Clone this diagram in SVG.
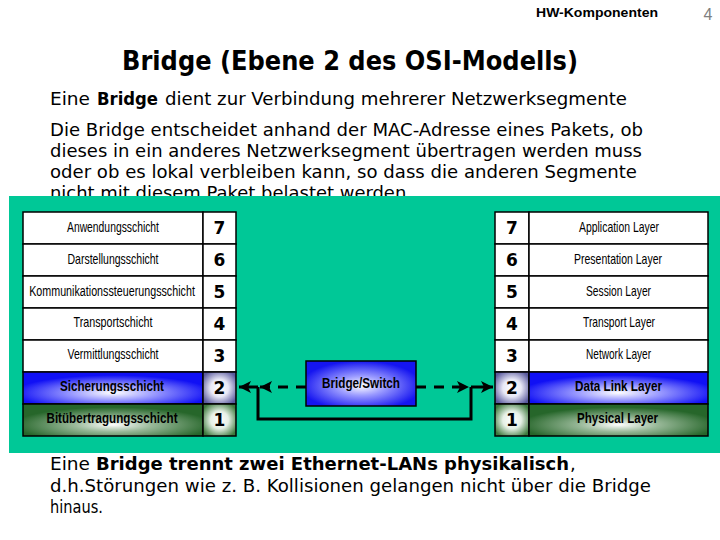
<svg xmlns="http://www.w3.org/2000/svg" width="720" height="540" viewBox="0 0 720 540">
<style>
.body{font-family:"DejaVu Sans","Verdana",sans-serif;font-size:18px;fill:#000}
.b{font-weight:bold}
.title{font-family:"DejaVu Sans","Verdana",sans-serif;font-size:26px;font-weight:bold;fill:#000}
.lbl{font-family:"Liberation Sans",Arial,sans-serif;font-size:14.5px;fill:#000}
.num{font-family:"DejaVu Sans",sans-serif;font-size:17px;font-weight:bold;fill:#000}
.cell{fill:#fff;stroke:#000;stroke-width:1.5}
.line{stroke:#000;stroke-width:3;fill:none}
.dash{stroke:#000;stroke-width:3;fill:none;stroke-dasharray:10 8}
</style>
<defs>
<radialGradient id="gBlue" cx="50%" cy="65%" r="55%">
<stop offset="0" stop-color="#ffffff"/>
<stop offset="0.4" stop-color="#a0a0ff"/>
<stop offset="1" stop-color="#1010f5"/>
</radialGradient>
<radialGradient id="gGreen" cx="50%" cy="65%" r="55%">
<stop offset="0" stop-color="#ffffff"/>
<stop offset="0.4" stop-color="#98b898"/>
<stop offset="1" stop-color="#26662a"/>
</radialGradient>
<radialGradient id="gNum2" cx="50%" cy="50%" r="60%">
<stop offset="0" stop-color="#ffffff"/>
<stop offset="0.45" stop-color="#e8e8f6"/>
<stop offset="1" stop-color="#5a5a9e"/>
</radialGradient>
<radialGradient id="gNum1" cx="50%" cy="50%" r="60%">
<stop offset="0" stop-color="#ffffff"/>
<stop offset="0.45" stop-color="#e6f0e6"/>
<stop offset="1" stop-color="#3d7a3d"/>
</radialGradient>
<radialGradient id="gBox" cx="50%" cy="55%" r="55%">
<stop offset="0" stop-color="#ffffff"/>
<stop offset="0.4" stop-color="#9a9aff"/>
<stop offset="1" stop-color="#1515f0"/>
</radialGradient>
<marker id="ah" markerUnits="userSpaceOnUse" markerWidth="14" markerHeight="12" refX="12" refY="6" orient="auto">
<path d="M0,0 L12,6 L0,12 L3,6 Z" fill="#000"/>
</marker>
</defs>
<rect width="720" height="540" fill="#fff"/>

<text x="597" y="17" text-anchor="middle" font-family="Liberation Sans,Arial,sans-serif" font-size="13.5" font-weight="bold" textLength="122" lengthAdjust="spacingAndGlyphs">HW-Komponenten</text>
<text x="708" y="20" text-anchor="middle" font-family="Liberation Sans,Arial,sans-serif" font-size="16" fill="#808080">4</text>

<text x="350" y="70" text-anchor="middle" class="title" textLength="456" lengthAdjust="spacingAndGlyphs">Bridge (Ebene 2 des OSI-Modells)</text>

<text x="50" y="105" class="body" textLength="40" lengthAdjust="spacingAndGlyphs">Eine</text>
<text x="97" y="105" class="body b" textLength="61" lengthAdjust="spacingAndGlyphs">Bridge</text>
<text x="165" y="105" class="body" textLength="462" lengthAdjust="spacingAndGlyphs">dient zur Verbindung mehrerer Netzwerksegmente</text>

<text x="50" y="136" class="body" textLength="593" lengthAdjust="spacingAndGlyphs">Die Bridge entscheidet anhand der MAC-Adresse eines Pakets, ob</text>
<text x="50" y="157" class="body" textLength="592" lengthAdjust="spacingAndGlyphs">dieses in ein anderes Netzwerksegment übertragen werden muss</text>
<text x="50" y="178" class="body" textLength="587" lengthAdjust="spacingAndGlyphs">oder ob es lokal verbleiben kann, so dass die anderen Segmente</text>
<text x="50" y="199" class="body" textLength="362" lengthAdjust="spacingAndGlyphs">nicht mit diesem Paket belastet werden.</text>

<rect x="9" y="196" width="711" height="257" fill="#00c897"/>

<g id="left-stack">
<rect class="cell" x="23" y="212" width="180" height="32"/><rect class="cell" x="203" y="212" width="33" height="32"/>
<rect class="cell" x="23" y="244" width="180" height="32"/><rect class="cell" x="203" y="244" width="33" height="32"/>
<rect class="cell" x="23" y="276" width="180" height="32"/><rect class="cell" x="203" y="276" width="33" height="32"/>
<rect class="cell" x="23" y="308" width="180" height="32"/><rect class="cell" x="203" y="308" width="33" height="32"/>
<rect class="cell" x="23" y="340" width="180" height="32"/><rect class="cell" x="203" y="340" width="33" height="32"/>
<rect x="23" y="372" width="180" height="32" fill="url(#gBlue)" stroke="#000" stroke-width="1.5"/>
<rect x="203" y="372" width="33" height="32" fill="url(#gNum2)" stroke="#000" stroke-width="1.5"/>
<rect x="23" y="404" width="180" height="32" fill="url(#gGreen)" stroke="#000" stroke-width="1.5"/>
<rect x="203" y="404" width="33" height="32" fill="url(#gNum1)" stroke="#000" stroke-width="1.5"/>
<text class="lbl" x="113" y="232" text-anchor="middle" textLength="92" lengthAdjust="spacingAndGlyphs">Anwendungsschicht</text>
<text class="lbl" x="113" y="264" text-anchor="middle" textLength="91" lengthAdjust="spacingAndGlyphs">Darstellungsschicht</text>
<text class="lbl" transform="translate(112,296) scale(0.74,1)" x="0" y="0" text-anchor="middle">Kommunikationssteuerungsschicht</text>
<text class="lbl" x="113" y="327" text-anchor="middle" textLength="79" lengthAdjust="spacingAndGlyphs">Transportschicht</text>
<text class="lbl" x="113" y="359" text-anchor="middle" textLength="91" lengthAdjust="spacingAndGlyphs">Vermittlungsschicht</text>
<text class="lbl b" x="112" y="391" text-anchor="middle" textLength="104" lengthAdjust="spacingAndGlyphs">Sicherungsschicht</text>
<text class="lbl b" x="112" y="423" text-anchor="middle" textLength="131" lengthAdjust="spacingAndGlyphs">Bitübertragungsschicht</text>
<text class="num" x="219.5" y="234" text-anchor="middle">7</text>
<text class="num" x="219.5" y="266" text-anchor="middle">6</text>
<text class="num" x="219.5" y="298" text-anchor="middle">5</text>
<text class="num" x="219.5" y="330" text-anchor="middle">4</text>
<text class="num" x="219.5" y="362" text-anchor="middle">3</text>
<text class="num" x="219.5" y="394" text-anchor="middle">2</text>
<text class="num" x="219.5" y="426" text-anchor="middle">1</text>
</g>

<g id="right-stack">
<rect class="cell" x="495" y="212" width="34" height="32"/><rect class="cell" x="529" y="212" width="179" height="32"/>
<rect class="cell" x="495" y="244" width="34" height="32"/><rect class="cell" x="529" y="244" width="179" height="32"/>
<rect class="cell" x="495" y="276" width="34" height="32"/><rect class="cell" x="529" y="276" width="179" height="32"/>
<rect class="cell" x="495" y="308" width="34" height="32"/><rect class="cell" x="529" y="308" width="179" height="32"/>
<rect class="cell" x="495" y="340" width="34" height="32"/><rect class="cell" x="529" y="340" width="179" height="32"/>
<rect x="495" y="372" width="34" height="32" fill="url(#gNum2)" stroke="#000" stroke-width="1.5"/>
<rect x="529" y="372" width="179" height="32" fill="url(#gBlue)" stroke="#000" stroke-width="1.5"/>
<rect x="495" y="404" width="34" height="32" fill="url(#gNum1)" stroke="#000" stroke-width="1.5"/>
<rect x="529" y="404" width="179" height="32" fill="url(#gGreen)" stroke="#000" stroke-width="1.5"/>
<text class="lbl" x="619" y="232" text-anchor="middle" textLength="80" lengthAdjust="spacingAndGlyphs">Application Layer</text>
<text class="lbl" x="618" y="264" text-anchor="middle" textLength="88" lengthAdjust="spacingAndGlyphs">Presentation Layer</text>
<text class="lbl" x="618.5" y="296" text-anchor="middle" textLength="65" lengthAdjust="spacingAndGlyphs">Session Layer</text>
<text class="lbl" x="619" y="327" text-anchor="middle" textLength="72" lengthAdjust="spacingAndGlyphs">Transport Layer</text>
<text class="lbl" x="618.5" y="359" text-anchor="middle" textLength="65" lengthAdjust="spacingAndGlyphs">Network Layer</text>
<text class="lbl b" x="618.5" y="391" text-anchor="middle" textLength="87" lengthAdjust="spacingAndGlyphs">Data Link Layer</text>
<text class="lbl b" x="617.5" y="423" text-anchor="middle" textLength="81" lengthAdjust="spacingAndGlyphs">Physical Layer</text>
<text class="num" x="512" y="234" text-anchor="middle">7</text>
<text class="num" x="512" y="266" text-anchor="middle">6</text>
<text class="num" x="512" y="298" text-anchor="middle">5</text>
<text class="num" x="512" y="330" text-anchor="middle">4</text>
<text class="num" x="512" y="362" text-anchor="middle">3</text>
<text class="num" x="512" y="394" text-anchor="middle">2</text>
<text class="num" x="512" y="426" text-anchor="middle">1</text>
</g>

<g id="bridge">
<rect x="306" y="361" width="110" height="45" fill="url(#gBox)" stroke="#000" stroke-width="1.5"/>
<text class="lbl b" x="361" y="388" text-anchor="middle" textLength="78" lengthAdjust="spacingAndGlyphs">Bridge/Switch</text>
</g>

<g id="connectors">
<line class="dash" x1="306" y1="387" x2="260" y2="387" marker-end="url(#ah)"/>
<line class="line" x1="258" y1="387" x2="239" y2="387" marker-end="url(#ah)"/>
<line class="dash" x1="416" y1="387" x2="469" y2="387" marker-end="url(#ah)"/>
<line class="line" x1="471" y1="387" x2="493" y2="387" marker-end="url(#ah)"/>
<polyline class="line" points="258,387 258,419 471,419 471,387"/>
</g>

<text x="50" y="470" class="body" textLength="40" lengthAdjust="spacingAndGlyphs">Eine</text>
<text x="96" y="470" class="body b" textLength="473" lengthAdjust="spacingAndGlyphs">Bridge trennt zwei Ethernet-LANs physikalisch</text>
<text x="570" y="470" class="body">,</text>
<text x="50" y="492" class="body" textLength="601" lengthAdjust="spacingAndGlyphs">d.h.Störungen wie z. B. Kollisionen gelangen nicht über die Bridge</text>
<text x="50" y="513" class="body" textLength="53" lengthAdjust="spacingAndGlyphs">hinaus.</text>
</svg>
